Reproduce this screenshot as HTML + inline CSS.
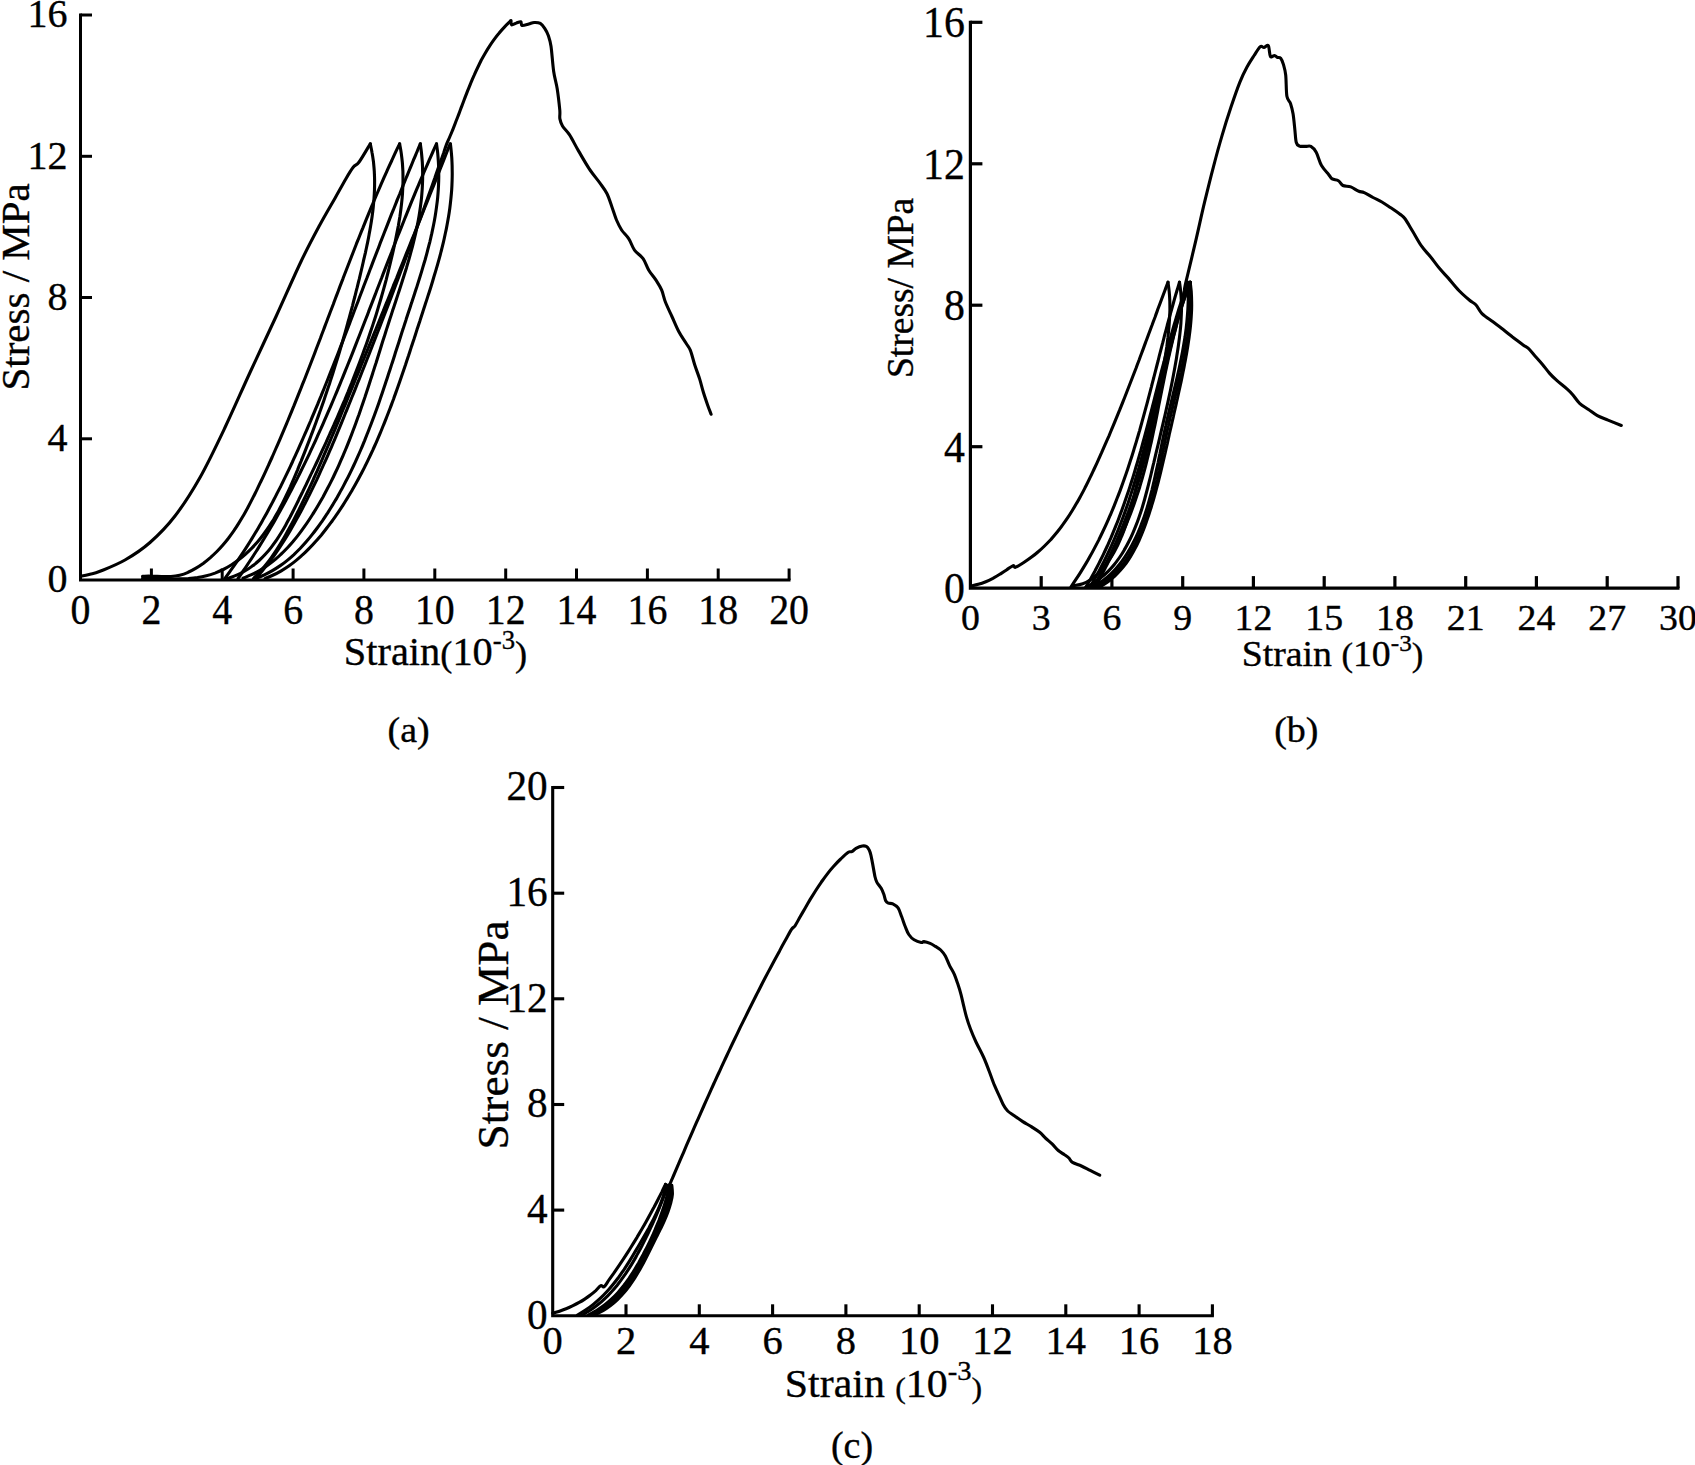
<!DOCTYPE html>
<html lang="en"><head><meta charset="utf-8"><title>Stress-strain curves</title>
<style>html,body{margin:0;padding:0;background:#fff}body{width:1695px;height:1465px;overflow:hidden}svg{display:block}</style>
</head><body>
<svg width="1695" height="1465" viewBox="0 0 1695 1465">
<rect width="1695" height="1465" fill="#fff"/>
<g fill="none" stroke="#000" stroke-width="2.80" stroke-linecap="butt" stroke-linejoin="miter"><g stroke-width="3.00"><path d="M80.5,13.6L80.5,580.0L790.5,580.0"/><path d="M151.4,580.0v-11.5"/><path d="M222.2,580.0v-11.5"/><path d="M293.1,580.0v-11.5"/><path d="M363.9,580.0v-11.5"/><path d="M434.8,580.0v-11.5"/><path d="M505.7,580.0v-11.5"/><path d="M576.5,580.0v-11.5"/><path d="M647.4,580.0v-11.5"/><path d="M718.2,580.0v-11.5"/><path d="M789.1,580.0v-11.5"/><path d="M80.5,438.8h11.5"/><path d="M80.5,297.5h11.5"/><path d="M80.5,156.3h11.5"/><path d="M80.5,15.0h11.5"/></g><g stroke-width="3.20"><path d="M970.4,20.8L970.4,588.1L1679.5,588.1"/><path d="M1041.2,588.1v-12.0"/><path d="M1111.9,588.1v-12.0"/><path d="M1182.7,588.1v-12.0"/><path d="M1253.4,588.1v-12.0"/><path d="M1324.2,588.1v-12.0"/><path d="M1394.9,588.1v-12.0"/><path d="M1465.7,588.1v-12.0"/><path d="M1536.4,588.1v-12.0"/><path d="M1607.2,588.1v-12.0"/><path d="M1678.0,588.1v-12.0"/><path d="M970.4,446.7h12.0"/><path d="M970.4,305.2h12.0"/><path d="M970.4,163.8h12.0"/><path d="M970.4,22.3h12.0"/></g><g stroke-width="3.10"><path d="M552.7,786.0L552.7,1315.8L1213.9,1315.8"/><path d="M626.0,1315.8v-11.5"/><path d="M699.3,1315.8v-11.5"/><path d="M772.6,1315.8v-11.5"/><path d="M845.9,1315.8v-11.5"/><path d="M919.2,1315.8v-11.5"/><path d="M992.5,1315.8v-11.5"/><path d="M1065.8,1315.8v-11.5"/><path d="M1139.1,1315.8v-11.5"/><path d="M1212.4,1315.8v-11.5"/><path d="M552.7,1210.1h11.5"/><path d="M552.7,1104.5h11.5"/><path d="M552.7,998.8h11.5"/><path d="M552.7,893.2h11.5"/><path d="M552.7,787.5h11.5"/></g></g>
<g fill="none" stroke="#000" stroke-linecap="round" stroke-linejoin="round">
<path d="M80.5,576.2C82.1,575.9 86.8,575.0 90.0,574.2C93.2,573.4 94.2,573.7 100.0,571.3C105.8,568.9 116.7,564.8 125.0,560.0C133.3,555.2 141.7,549.8 150.0,542.5C158.3,535.2 166.7,526.8 175.0,516.0C183.3,505.2 191.7,492.2 200.0,477.5C208.3,462.8 216.7,445.0 225.0,427.5C233.3,410.0 241.4,391.2 250.0,372.5C258.6,353.8 267.9,334.2 276.5,315.5C285.1,296.8 294.3,275.5 301.5,260.5C308.7,245.5 313.9,235.9 319.5,225.5C325.1,215.1 330.6,205.9 335.0,198.2C339.4,190.4 342.8,184.2 345.8,179.0C348.8,173.8 351.0,170.1 353.2,167.3C355.4,164.5 356.2,165.9 359.1,162.0C362.0,158.1 368.4,146.8 370.3,143.8" stroke-width="3.10"/>
<path d="M370.3,143.8C370.6,145.3 371.6,149.9 372.1,153.0C372.7,156.0 373.1,159.1 373.5,162.1C373.8,165.2 374.1,168.2 374.3,171.3C374.4,174.3 374.6,177.3 374.6,180.4C374.6,183.4 374.6,186.4 374.5,189.4C374.4,192.5 374.3,195.5 374.0,198.5C373.8,201.5 373.5,204.5 373.2,207.5C372.9,210.5 372.5,213.5 372.1,216.5C371.7,219.5 371.2,222.5 370.7,225.5C370.2,228.5 369.7,231.5 369.1,234.4C368.6,237.4 368.0,240.4 367.4,243.4C366.8,246.3 366.1,249.3 365.5,252.3C364.8,255.2 364.1,258.2 363.4,261.2C362.8,264.1 362.1,267.1 361.4,270.0C360.7,273.0 360.0,275.9 359.3,278.9C358.5,281.8 357.8,284.8 357.1,287.7C356.3,290.6 355.6,293.6 354.9,296.5C354.1,299.4 353.3,302.4 352.6,305.3C351.8,308.2 351.0,311.1 350.2,314.1C349.5,317.0 348.7,319.9 347.8,322.8C347.0,325.7 346.2,328.6 345.4,331.6C344.6,334.5 343.7,337.4 342.9,340.3C342.1,343.2 341.2,346.1 340.3,349.0C339.5,351.9 338.6,354.8 337.7,357.7C336.8,360.6 335.9,363.5 335.0,366.3C334.1,369.2 333.2,372.1 332.3,375.0C331.4,377.9 330.4,380.8 329.5,383.7C328.5,386.5 327.6,389.4 326.6,392.3C325.6,395.2 324.7,398.0 323.7,400.9C322.7,403.8 321.7,406.7 320.7,409.5C319.6,412.4 318.6,415.3 317.6,418.1C316.5,421.0 315.5,423.9 314.4,426.7C313.4,429.6 312.3,432.4 311.2,435.3C310.1,438.2 309.0,441.0 307.9,443.9C306.8,446.7 305.7,449.6 304.6,452.4C303.5,455.3 302.3,458.1 301.2,461.0C300.0,463.9 298.8,466.7 297.7,469.6C296.5,472.4 295.3,475.2 294.1,478.1C292.9,480.9 291.6,483.8 290.4,486.6C289.1,489.4 287.8,492.2 286.5,495.0C285.2,497.8 283.9,500.5 282.5,503.3C281.1,506.0 279.7,508.7 278.2,511.4C276.7,514.0 275.2,516.7 273.7,519.3C272.1,521.8 270.5,524.4 268.8,526.9C267.2,529.4 265.4,531.8 263.6,534.2C261.8,536.6 260.0,539.0 258.1,541.2C256.1,543.5 254.1,545.7 252.1,547.9C250.0,550.0 247.8,552.1 245.6,554.1C243.4,556.1 241.1,558.0 238.7,559.8C236.3,561.6 233.8,563.4 231.2,565.0C228.6,566.6 226.0,568.1 223.3,569.5C220.6,570.8 217.8,572.0 215.0,573.1C212.2,574.1 209.3,575.0 206.4,575.7C203.5,576.4 200.5,577.0 197.5,577.5C194.5,577.9 191.5,578.2 188.4,578.5C185.4,578.7 182.3,578.8 179.2,578.9C176.2,579.0 173.1,579.0 170.0,578.9C166.9,578.9 163.8,578.8 160.7,578.7C157.7,578.6 154.6,578.5 151.6,578.4C148.5,578.3 144.0,578.2 142.5,578.2" stroke-width="3.10"/>
<path d="M142.5,576.2C144.1,576.2 149.0,576.1 152.3,576.2C155.5,576.2 158.6,576.5 161.7,576.5C164.8,576.6 167.9,576.7 170.9,576.5C173.9,576.3 176.8,575.9 179.7,575.2C182.6,574.5 185.4,573.5 188.1,572.3C190.8,571.2 193.5,569.7 196.0,568.2C198.6,566.6 201.1,564.9 203.5,563.2C205.9,561.4 208.2,559.5 210.4,557.6C212.6,555.6 214.8,553.6 216.9,551.5C219.0,549.4 221.0,547.2 222.9,545.0C224.9,542.7 226.7,540.4 228.6,538.0C230.4,535.6 232.1,533.2 233.9,530.7C235.6,528.2 237.2,525.7 238.8,523.1C240.5,520.5 242.0,517.9 243.6,515.2C245.1,512.6 246.6,509.9 248.0,507.2C249.5,504.5 250.9,501.7 252.3,498.9C253.8,496.2 255.1,493.4 256.5,490.6C257.9,487.8 259.2,485.0 260.5,482.2C261.9,479.4 263.2,476.6 264.5,473.8C265.8,471.0 267.1,468.2 268.4,465.4C269.6,462.6 270.9,459.8 272.2,457.0C273.4,454.2 274.7,451.3 275.9,448.5C277.1,445.7 278.4,442.9 279.6,440.1C280.8,437.3 282.0,434.4 283.2,431.6C284.4,428.8 285.6,426.0 286.8,423.2C288.0,420.3 289.1,417.5 290.3,414.7C291.5,411.9 292.6,409.0 293.8,406.2C294.9,403.4 296.1,400.5 297.2,397.7C298.3,394.9 299.5,392.0 300.6,389.2C301.7,386.4 302.8,383.6 304.0,380.7C305.1,377.9 306.2,375.1 307.3,372.2C308.4,369.4 309.5,366.5 310.6,363.7C311.7,360.9 312.8,358.0 313.9,355.2C315.0,352.4 316.0,349.5 317.1,346.7C318.2,343.9 319.3,341.0 320.4,338.2C321.4,335.4 322.5,332.5 323.6,329.7C324.7,326.8 325.7,324.0 326.8,321.2C327.9,318.3 329.0,315.5 330.0,312.7C331.1,309.8 332.2,307.0 333.3,304.2C334.3,301.3 335.4,298.5 336.5,295.6C337.6,292.8 338.6,290.0 339.7,287.1C340.8,284.3 341.9,281.5 343.0,278.6C344.0,275.8 345.1,273.0 346.2,270.2C347.3,267.3 348.4,264.5 349.5,261.7C350.6,258.8 351.7,256.0 352.8,253.2C353.9,250.4 355.0,247.5 356.1,244.7C357.2,241.9 358.4,239.1 359.5,236.2C360.6,233.4 361.7,230.6 362.9,227.8C364.0,225.0 365.2,222.1 366.3,219.3C367.5,216.5 368.6,213.7 369.8,210.9C371.0,208.1 372.1,205.3 373.3,202.5C374.5,199.7 375.7,196.8 376.9,194.0C378.1,191.2 379.3,188.4 380.5,185.6C381.7,182.8 383.0,180.0 384.2,177.2C385.4,174.4 386.7,171.6 387.9,168.9C389.2,166.1 390.5,163.3 391.8,160.5C393.0,157.7 394.3,154.9 395.6,152.1C396.9,149.4 398.9,145.2 399.6,143.8" stroke-width="3.10"/>
<path d="M420.3,143.8C419.7,145.2 418.0,149.3 416.9,152.0C415.7,154.8 414.6,157.5 413.4,160.2C412.3,163.0 411.2,165.8 410.0,168.5C408.9,171.3 407.8,174.0 406.6,176.8C405.5,179.6 404.4,182.4 403.2,185.1C402.1,187.9 401.0,190.7 399.9,193.5C398.7,196.3 397.6,199.1 396.5,201.8C395.4,204.6 394.3,207.4 393.2,210.2C392.0,213.0 390.9,215.8 389.8,218.6C388.7,221.4 387.6,224.2 386.5,227.1C385.4,229.9 384.3,232.7 383.2,235.5C382.1,238.3 381.0,241.1 379.9,243.9C378.9,246.8 377.8,249.6 376.7,252.4C375.6,255.2 374.5,258.0 373.4,260.9C372.3,263.7 371.3,266.5 370.2,269.3C369.1,272.2 368.0,275.0 367.0,277.8C365.9,280.6 364.8,283.5 363.7,286.3C362.7,289.1 361.6,292.0 360.5,294.8C359.4,297.6 358.4,300.4 357.3,303.3C356.2,306.1 355.1,308.9 354.0,311.8C353.0,314.6 351.9,317.4 350.8,320.2C349.7,323.1 348.6,325.9 347.6,328.7C346.5,331.5 345.4,334.4 344.3,337.2C343.2,340.0 342.1,342.8 341.0,345.6C339.9,348.4 338.9,351.3 337.8,354.1C336.7,356.9 335.6,359.7 334.4,362.5C333.3,365.3 332.2,368.1 331.1,370.9C330.0,373.7 328.9,376.5 327.8,379.3C326.7,382.1 325.5,384.9 324.4,387.7C323.3,390.5 322.1,393.3 321.0,396.1C319.8,398.9 318.7,401.6 317.6,404.4C316.4,407.2 315.2,410.0 314.1,412.7C312.9,415.5 311.7,418.3 310.6,421.0C309.4,423.8 308.2,426.5 307.0,429.3C305.8,432.0 304.6,434.8 303.4,437.5C302.2,440.2 301.0,443.0 299.8,445.7C298.6,448.4 297.3,451.2 296.1,453.9C294.9,456.6 293.6,459.3 292.4,462.0C291.1,464.7 289.9,467.4 288.6,470.1C287.3,472.8 286.0,475.5 284.7,478.1C283.4,480.8 282.1,483.5 280.8,486.2C279.4,488.8 278.1,491.5 276.7,494.1C275.4,496.8 274.0,499.4 272.6,502.1C271.2,504.7 269.8,507.3 268.4,509.9C267.0,512.6 265.6,515.2 264.1,517.8C262.6,520.4 261.2,523.0 259.7,525.6C258.2,528.1 256.7,530.7 255.1,533.3C253.6,535.9 252.0,538.4 250.4,541.0C248.8,543.5 247.2,546.1 245.6,548.6C244.0,551.1 242.3,553.7 240.6,556.2C239.0,558.7 237.3,561.2 235.5,563.7C233.8,566.2 232.0,568.6 230.2,571.1C228.5,573.6 225.7,577.3 224.8,578.5" stroke-width="3.10"/>
<path d="M436.5,143.8C435.9,145.2 434.0,149.3 432.8,152.0C431.6,154.7 430.4,157.5 429.2,160.2C428.0,163.0 426.8,165.7 425.6,168.5C424.4,171.2 423.2,174.0 422.0,176.8C420.8,179.5 419.7,182.3 418.5,185.1C417.3,187.8 416.2,190.6 415.0,193.4C413.9,196.2 412.7,199.0 411.6,201.7C410.5,204.5 409.3,207.3 408.2,210.1C407.1,212.9 405.9,215.7 404.8,218.5C403.7,221.3 402.6,224.1 401.5,226.9C400.4,229.7 399.2,232.5 398.1,235.3C397.0,238.1 395.9,240.9 394.8,243.7C393.7,246.5 392.6,249.3 391.6,252.2C390.5,255.0 389.4,257.8 388.3,260.6C387.2,263.4 386.1,266.2 385.0,269.1C383.9,271.9 382.8,274.7 381.8,277.5C380.7,280.3 379.6,283.2 378.5,286.0C377.4,288.8 376.3,291.6 375.3,294.4C374.2,297.3 373.1,300.1 372.0,302.9C370.9,305.7 369.8,308.5 368.7,311.4C367.7,314.2 366.6,317.0 365.5,319.8C364.4,322.6 363.3,325.4 362.2,328.3C361.1,331.1 360.0,333.9 358.9,336.7C357.8,339.5 356.7,342.3 355.6,345.1C354.5,348.0 353.4,350.8 352.3,353.6C351.2,356.4 350.0,359.2 348.9,362.0C347.8,364.8 346.7,367.6 345.5,370.4C344.4,373.2 343.3,376.0 342.1,378.8C341.0,381.6 339.8,384.4 338.7,387.1C337.5,389.9 336.4,392.7 335.2,395.5C334.0,398.3 332.9,401.1 331.7,403.8C330.5,406.6 329.3,409.4 328.1,412.1C326.9,414.9 325.7,417.7 324.5,420.4C323.3,423.2 322.1,425.9 320.9,428.7C319.6,431.4 318.4,434.2 317.2,436.9C315.9,439.7 314.7,442.4 313.4,445.1C312.1,447.8 310.9,450.6 309.6,453.3C308.3,456.0 307.0,458.7 305.7,461.4C304.4,464.1 303.1,466.8 301.7,469.5C300.4,472.2 299.1,474.9 297.7,477.6C296.4,480.3 295.0,483.0 293.6,485.6C292.3,488.3 290.9,491.0 289.5,493.6C288.1,496.3 286.7,498.9 285.3,501.6C283.8,504.2 282.4,506.9 280.9,509.5C279.5,512.1 278.0,514.7 276.5,517.4C275.1,520.0 273.6,522.6 272.1,525.2C270.5,527.8 269.0,530.4 267.5,533.0C265.9,535.5 264.4,538.1 262.8,540.7C261.2,543.2 259.7,545.8 258.1,548.4C256.5,550.9 254.8,553.4 253.2,556.0C251.6,558.5 249.9,561.0 248.2,563.5C246.6,566.1 244.9,568.6 243.2,571.0C241.5,573.5 238.9,577.3 238.0,578.5" stroke-width="3.10"/>
<path d="M450.2,143.8C449.6,145.2 448.0,149.4 446.8,152.2C445.7,155.0 444.6,157.8 443.5,160.7C442.4,163.5 441.3,166.3 440.1,169.1C439.0,171.9 437.9,174.7 436.8,177.5C435.7,180.3 434.6,183.1 433.5,185.9C432.3,188.7 431.2,191.5 430.1,194.3C429.0,197.1 427.9,199.9 426.8,202.6C425.6,205.4 424.5,208.2 423.4,211.0C422.3,213.8 421.2,216.6 420.1,219.4C418.9,222.2 417.8,225.0 416.7,227.8C415.6,230.6 414.5,233.4 413.4,236.2C412.2,238.9 411.1,241.7 410.0,244.5C408.9,247.3 407.8,250.1 406.6,252.9C405.5,255.7 404.4,258.5 403.3,261.3C402.2,264.0 401.0,266.8 399.9,269.6C398.8,272.4 397.7,275.2 396.6,278.0C395.4,280.8 394.3,283.6 393.2,286.3C392.1,289.1 390.9,291.9 389.8,294.7C388.7,297.5 387.6,300.3 386.4,303.1C385.3,305.9 384.2,308.7 383.1,311.4C381.9,314.2 380.8,317.0 379.7,319.8C378.6,322.6 377.4,325.4 376.3,328.2C375.2,331.0 374.0,333.8 372.9,336.6C371.8,339.4 370.6,342.1 369.5,344.9C368.4,347.7 367.2,350.5 366.1,353.3C365.0,356.1 363.8,358.9 362.7,361.7C361.5,364.5 360.4,367.3 359.3,370.1C358.1,372.9 357.0,375.7 355.8,378.5C354.7,381.3 353.5,384.1 352.4,386.9C351.2,389.7 350.1,392.5 348.9,395.3C347.8,398.1 346.6,401.0 345.5,403.8C344.3,406.6 343.2,409.4 342.0,412.2C340.9,415.0 339.7,417.8 338.6,420.6C337.4,423.4 336.2,426.2 335.1,429.1C333.9,431.9 332.7,434.7 331.5,437.5C330.4,440.3 329.2,443.1 328.0,445.9C326.8,448.7 325.6,451.5 324.4,454.2C323.2,457.0 322.0,459.8 320.8,462.6C319.6,465.3 318.4,468.1 317.2,470.9C315.9,473.6 314.7,476.4 313.5,479.1C312.2,481.9 311.0,484.6 309.7,487.3C308.4,490.0 307.2,492.7 305.9,495.4C304.6,498.1 303.3,500.8 302.0,503.5C300.7,506.2 299.4,508.8 298.0,511.5C296.7,514.1 295.4,516.7 294.0,519.4C292.7,522.0 291.3,524.6 289.9,527.1C288.5,529.7 287.1,532.3 285.7,534.8C284.3,537.4 282.8,539.9 281.3,542.4C279.8,544.9 278.2,547.4 276.6,549.9C275.0,552.4 273.3,554.8 271.5,557.3C269.8,559.7 268.0,562.1 266.1,564.5C264.2,566.9 262.2,569.2 260.1,571.6C258.0,573.9 254.6,577.3 253.5,578.5" stroke-width="3.10"/>
<path d="M399.6,143.8C399.9,145.3 400.8,149.9 401.2,152.9C401.6,155.9 402.0,159.0 402.3,162.0C402.6,165.1 402.7,168.1 402.9,171.1C403.0,174.2 403.0,177.2 403.0,180.2C403.0,183.3 402.9,186.3 402.7,189.3C402.6,192.3 402.4,195.4 402.1,198.4C401.8,201.4 401.5,204.5 401.1,207.5C400.8,210.5 400.3,213.5 399.9,216.5C399.4,219.5 398.9,222.6 398.4,225.6C397.8,228.6 397.2,231.6 396.6,234.6C396.1,237.6 395.4,240.6 394.8,243.6C394.1,246.6 393.5,249.6 392.8,252.6C392.1,255.5 391.4,258.5 390.7,261.5C390.0,264.5 389.3,267.5 388.5,270.4C387.8,273.4 387.0,276.3 386.3,279.3C385.5,282.3 384.7,285.2 383.9,288.2C383.1,291.1 382.3,294.0 381.4,297.0C380.6,299.9 379.7,302.8 378.8,305.7C378.0,308.6 377.1,311.6 376.2,314.5C375.3,317.4 374.3,320.3 373.4,323.1C372.5,326.0 371.5,328.9 370.5,331.8C369.6,334.7 368.6,337.6 367.6,340.4C366.6,343.3 365.6,346.2 364.5,349.0C363.5,351.9 362.5,354.7 361.4,357.6C360.4,360.4 359.3,363.3 358.2,366.1C357.1,368.9 356.0,371.8 354.9,374.6C353.8,377.4 352.7,380.3 351.6,383.1C350.4,385.9 349.3,388.7 348.2,391.5C347.0,394.3 345.8,397.2 344.7,400.0C343.5,402.8 342.3,405.6 341.1,408.4C339.9,411.2 338.7,414.0 337.5,416.8C336.3,419.6 335.0,422.4 333.8,425.2C332.5,428.0 331.3,430.7 330.0,433.5C328.8,436.3 327.5,439.1 326.3,441.9C325.0,444.7 323.7,447.5 322.4,450.2C321.1,453.0 319.8,455.8 318.5,458.6C317.2,461.4 315.9,464.1 314.6,466.9C313.3,469.7 311.9,472.5 310.6,475.2C309.3,478.0 307.9,480.8 306.6,483.6C305.3,486.3 303.9,489.1 302.6,491.9C301.2,494.7 299.8,497.4 298.5,500.2C297.1,503.0 295.8,505.8 294.4,508.5C293.0,511.3 291.6,514.1 290.2,516.8C288.7,519.5 287.3,522.2 285.8,524.9C284.3,527.6 282.8,530.2 281.2,532.8C279.6,535.4 278.0,537.9 276.3,540.4C274.6,542.8 272.8,545.2 271.0,547.6C269.2,549.9 267.3,552.2 265.3,554.3C263.3,556.5 261.2,558.6 259.1,560.5C256.9,562.5 254.6,564.4 252.2,566.1C249.9,567.9 247.4,569.5 244.8,571.0C242.2,572.6 239.4,574.0 236.6,575.2C233.7,576.4 229.1,577.9 227.6,578.5" stroke-width="3.10"/>
<path d="M420.3,143.8C420.5,145.3 421.2,150.0 421.5,153.0C421.8,156.1 422.1,159.1 422.3,162.2C422.5,165.2 422.6,168.3 422.6,171.3C422.7,174.3 422.7,177.3 422.6,180.3C422.5,183.3 422.4,186.2 422.2,189.2C422.0,192.2 421.8,195.1 421.5,198.1C421.2,201.0 420.8,204.0 420.4,206.9C420.0,209.9 419.6,212.8 419.1,215.7C418.6,218.6 418.1,221.5 417.5,224.4C416.9,227.3 416.3,230.2 415.7,233.1C415.0,236.0 414.3,238.9 413.6,241.8C412.9,244.7 412.2,247.6 411.4,250.4C410.6,253.3 409.8,256.2 409.0,259.1C408.2,261.9 407.3,264.8 406.5,267.7C405.6,270.5 404.7,273.4 403.8,276.3C402.9,279.1 402.0,282.0 401.1,284.8C400.2,287.7 399.2,290.6 398.3,293.4C397.4,296.3 396.4,299.2 395.5,302.0C394.5,304.9 393.6,307.8 392.6,310.6C391.7,313.5 390.8,316.4 389.8,319.3C388.9,322.2 388.0,325.0 387.0,327.9C386.1,330.8 385.2,333.7 384.3,336.6C383.3,339.5 382.4,342.4 381.5,345.3C380.6,348.2 379.7,351.1 378.8,354.0C377.9,356.9 377.0,359.8 376.1,362.7C375.1,365.6 374.2,368.5 373.3,371.4C372.4,374.2 371.5,377.1 370.5,380.0C369.6,382.9 368.7,385.8 367.7,388.7C366.8,391.6 365.8,394.4 364.9,397.3C363.9,400.2 362.9,403.1 361.9,405.9C361.0,408.8 360.0,411.6 359.0,414.5C357.9,417.3 356.9,420.2 355.9,423.0C354.9,425.8 353.8,428.7 352.7,431.5C351.7,434.3 350.6,437.1 349.5,439.9C348.4,442.7 347.3,445.5 346.1,448.3C345.0,451.1 343.8,453.8 342.6,456.6C341.4,459.3 340.2,462.1 339.0,464.8C337.8,467.6 336.5,470.3 335.2,473.0C334.0,475.7 332.7,478.4 331.3,481.1C330.0,483.7 328.6,486.4 327.2,489.0C325.8,491.7 324.4,494.3 323.0,496.9C321.5,499.5 320.0,502.1 318.5,504.7C317.0,507.3 315.5,509.8 313.9,512.4C312.3,514.9 310.7,517.5 309.0,520.0C307.4,522.5 305.7,524.9 303.9,527.4C302.2,529.8 300.4,532.3 298.6,534.6C296.8,537.0 294.9,539.3 293.0,541.6C291.0,543.9 289.1,546.1 287.0,548.3C285.0,550.4 282.9,552.5 280.7,554.5C278.6,556.6 276.3,558.5 274.1,560.4C271.8,562.3 269.4,564.0 267.0,565.7C264.5,567.4 262.0,569.0 259.5,570.5C256.9,572.0 254.2,573.4 251.5,574.7C248.7,576.0 244.4,577.6 243.0,578.2" stroke-width="3.10"/>
<path d="M436.5,143.8C436.7,145.3 437.4,150.0 437.7,153.1C438.0,156.1 438.2,159.2 438.4,162.2C438.6,165.3 438.7,168.3 438.7,171.3C438.8,174.4 438.8,177.4 438.7,180.4C438.6,183.4 438.5,186.4 438.3,189.3C438.1,192.3 437.9,195.3 437.6,198.3C437.3,201.2 436.9,204.2 436.5,207.1C436.1,210.1 435.7,213.0 435.2,215.9C434.7,218.9 434.2,221.8 433.6,224.7C433.0,227.6 432.4,230.5 431.8,233.4C431.1,236.3 430.5,239.2 429.8,242.1C429.0,245.0 428.3,247.9 427.5,250.8C426.8,253.7 426.0,256.6 425.2,259.5C424.3,262.4 423.5,265.2 422.6,268.1C421.8,271.0 420.9,273.9 420.0,276.7C419.1,279.6 418.2,282.5 417.3,285.4C416.4,288.2 415.4,291.1 414.5,294.0C413.6,296.9 412.6,299.7 411.7,302.6C410.7,305.5 409.8,308.4 408.8,311.3C407.9,314.2 406.9,317.0 406.0,319.9C405.0,322.8 404.1,325.7 403.2,328.6C402.2,331.5 401.3,334.4 400.4,337.3C399.5,340.2 398.5,343.1 397.6,346.0C396.7,348.9 395.7,351.8 394.8,354.7C393.9,357.6 393.0,360.5 392.0,363.4C391.1,366.3 390.1,369.2 389.2,372.1C388.2,375.0 387.3,377.9 386.3,380.8C385.4,383.7 384.4,386.6 383.4,389.5C382.5,392.3 381.5,395.2 380.5,398.1C379.5,401.0 378.5,403.8 377.5,406.7C376.5,409.5 375.4,412.4 374.4,415.2C373.3,418.1 372.3,420.9 371.2,423.8C370.1,426.6 369.0,429.4 367.9,432.2C366.8,435.0 365.7,437.8 364.6,440.6C363.4,443.4 362.3,446.2 361.1,449.0C359.9,451.8 358.7,454.5 357.4,457.3C356.2,460.0 355.0,462.7 353.7,465.5C352.4,468.2 351.1,470.9 349.8,473.6C348.5,476.3 347.1,479.0 345.7,481.6C344.3,484.3 342.9,486.9 341.5,489.6C340.0,492.2 338.6,494.8 337.1,497.4C335.6,500.0 334.0,502.6 332.5,505.2C330.9,507.7 329.3,510.3 327.7,512.8C326.0,515.3 324.4,517.8 322.7,520.3C320.9,522.8 319.2,525.3 317.4,527.7C315.6,530.1 313.8,532.5 311.9,534.9C310.1,537.2 308.1,539.6 306.2,541.8C304.2,544.1 302.2,546.3 300.1,548.5C298.0,550.6 295.9,552.7 293.7,554.8C291.5,556.8 289.3,558.7 287.0,560.6C284.7,562.5 282.3,564.3 279.9,565.9C277.4,567.6 274.9,569.2 272.4,570.7C269.8,572.2 267.1,573.6 264.4,574.9C261.7,576.2 257.4,577.8 256.0,578.4" stroke-width="3.10"/>
<path d="M450.4,143.8C450.6,145.4 451.1,150.0 451.4,153.1C451.7,156.2 451.9,159.3 452.0,162.3C452.2,165.4 452.2,168.4 452.2,171.5C452.3,174.5 452.2,177.5 452.1,180.6C452.0,183.6 451.9,186.6 451.7,189.6C451.5,192.6 451.2,195.6 450.9,198.6C450.6,201.5 450.3,204.5 449.9,207.5C449.5,210.4 449.1,213.4 448.6,216.3C448.1,219.3 447.6,222.2 447.0,225.2C446.5,228.1 445.9,231.0 445.2,234.0C444.6,236.9 444.0,239.8 443.3,242.7C442.6,245.6 441.9,248.5 441.1,251.5C440.4,254.4 439.6,257.3 438.8,260.2C438.0,263.1 437.2,266.0 436.3,268.9C435.5,271.8 434.6,274.6 433.7,277.5C432.9,280.4 432.0,283.3 431.1,286.2C430.2,289.1 429.3,292.0 428.3,294.9C427.4,297.8 426.5,300.7 425.5,303.6C424.6,306.4 423.6,309.3 422.7,312.2C421.8,315.1 420.8,318.0 419.9,320.9C418.9,323.8 418.0,326.7 417.0,329.6C416.1,332.6 415.1,335.5 414.2,338.4C413.2,341.3 412.3,344.2 411.3,347.1C410.4,350.0 409.4,352.9 408.5,355.8C407.5,358.7 406.5,361.6 405.6,364.5C404.6,367.4 403.6,370.3 402.6,373.2C401.6,376.1 400.6,379.0 399.6,381.9C398.6,384.8 397.6,387.7 396.6,390.6C395.6,393.4 394.5,396.3 393.5,399.2C392.4,402.0 391.4,404.9 390.3,407.8C389.2,410.6 388.1,413.5 387.0,416.3C385.9,419.1 384.8,422.0 383.6,424.8C382.5,427.6 381.3,430.4 380.2,433.2C379.0,436.0 377.8,438.8 376.6,441.6C375.4,444.4 374.1,447.1 372.9,449.9C371.6,452.6 370.3,455.4 369.0,458.1C367.7,460.8 366.4,463.6 365.0,466.3C363.7,469.0 362.3,471.6 360.9,474.3C359.5,477.0 358.1,479.6 356.6,482.3C355.2,484.9 353.7,487.5 352.2,490.1C350.6,492.7 349.1,495.3 347.5,497.9C345.9,500.5 344.3,503.0 342.7,505.6C341.1,508.1 339.4,510.6 337.7,513.1C336.0,515.6 334.2,518.0 332.5,520.5C330.7,522.9 328.9,525.4 327.0,527.8C325.2,530.2 323.3,532.6 321.4,534.9C319.4,537.2 317.5,539.5 315.4,541.8C313.4,544.1 311.4,546.3 309.2,548.4C307.1,550.6 305.0,552.7 302.8,554.7C300.5,556.7 298.3,558.7 295.9,560.6C293.6,562.5 291.2,564.3 288.8,566.0C286.3,567.7 283.8,569.3 281.3,570.8C278.7,572.3 276.1,573.7 273.3,575.0C270.6,576.3 266.4,578.0 265.0,578.6" stroke-width="3.10"/>
<path d="M255.7,578.5C256.7,577.3 259.8,573.9 261.8,571.5C263.7,569.2 265.6,566.8 267.5,564.4C269.4,562.0 271.2,559.6 272.9,557.2C274.7,554.8 276.4,552.3 278.0,549.9C279.7,547.4 281.3,544.9 282.9,542.4C284.5,540.0 286.1,537.4 287.6,534.9C289.1,532.4 290.6,529.8 292.1,527.3C293.6,524.7 295.0,522.2 296.4,519.6C297.9,517.0 299.3,514.4 300.7,511.8C302.1,509.2 303.5,506.5 304.8,503.9C306.2,501.3 307.5,498.6 308.9,495.9C310.2,493.3 311.5,490.6 312.8,487.9C314.1,485.3 315.4,482.6 316.7,479.9C317.9,477.2 319.2,474.4 320.4,471.7C321.7,469.0 322.9,466.3 324.1,463.5C325.4,460.8 326.6,458.1 327.8,455.3C329.0,452.6 330.2,449.8 331.4,447.1C332.5,444.3 333.7,441.5 334.9,438.8C336.1,436.0 337.2,433.2 338.4,430.4C339.5,427.7 340.7,424.9 341.8,422.1C343.0,419.3 344.1,416.5 345.2,413.7C346.4,411.0 347.5,408.2 348.6,405.4C349.8,402.6 350.9,399.8 352.0,397.0C353.2,394.2 354.3,391.4 355.4,388.6C356.5,385.8 357.6,383.0 358.8,380.2C359.9,377.4 361.0,374.6 362.1,371.8C363.2,369.0 364.3,366.2 365.4,363.5C366.5,360.7 367.6,357.9 368.7,355.1C369.8,352.3 370.9,349.5 372.0,346.6C373.1,343.8 374.2,341.0 375.3,338.2C376.4,335.4 377.5,332.6 378.6,329.8C379.7,327.0 380.7,324.2 381.8,321.4C382.9,318.6 384.0,315.8 385.1,313.0C386.1,310.2 387.2,307.4 388.3,304.6C389.4,301.8 390.4,299.0 391.5,296.1C392.6,293.3 393.6,290.5 394.7,287.7C395.8,284.9 396.8,282.1 397.9,279.3C398.9,276.5 400.0,273.7 401.0,270.8C402.1,268.0 403.1,265.2 404.2,262.4C405.2,259.6 406.3,256.8 407.3,254.0C408.4,251.1 409.4,248.3 410.4,245.5C411.5,242.7 412.5,239.9 413.5,237.1C414.6,234.2 415.6,231.4 416.6,228.6C417.7,225.8 418.7,223.0 419.7,220.1C420.7,217.3 421.7,214.5 422.8,211.7C423.8,208.9 424.8,206.0 425.8,203.2C426.8,200.4 427.8,197.6 428.8,194.7C429.8,191.9 430.9,189.1 431.9,186.3C432.9,183.5 433.9,180.6 434.9,177.8C435.8,175.0 436.8,172.2 437.8,169.3C438.8,166.5 439.8,163.7 440.8,160.9C441.8,158.0 442.8,155.2 443.8,152.4C444.7,149.6 445.7,146.5 446.7,143.9C447.7,141.3 448.9,139.0 449.9,136.5C451.0,134.0 452.0,131.5 453.1,128.9C454.1,126.4 455.1,123.9 456.0,121.3C457.0,118.7 458.0,116.2 459.0,113.6C460.0,111.0 460.9,108.4 461.9,105.9C462.9,103.3 463.8,100.7 464.8,98.1C465.8,95.5 466.8,92.9 467.8,90.4C468.8,87.8 469.9,85.3 470.9,82.7C472.0,80.2 473.0,77.6 474.2,75.1C475.3,72.6 476.4,70.1 477.6,67.7C478.8,65.2 480.0,62.8 481.2,60.3C482.5,57.9 483.8,55.6 485.2,53.2C486.5,50.9 487.9,48.6 489.4,46.3C490.9,44.0 492.4,41.8 494.0,39.6C495.6,37.4 497.2,35.3 499.0,33.2C500.7,31.1 502.5,29.1 504.4,27.1C506.3,25.1 509.3,22.3 510.3,21.3" stroke-width="3.10"/>
<path d="M510.3,21.3C510.4,21.2 510.8,20.0 511.0,20.6C511.2,21.2 510.7,24.5 511.6,24.9C512.5,25.3 514.8,23.6 516.3,23.1C517.8,22.6 519.8,21.4 520.8,21.8C521.8,22.2 520.7,25.0 522.0,25.4C523.3,25.8 526.8,24.5 528.8,24.0C530.8,23.5 532.2,22.6 534.1,22.5C536.0,22.4 538.5,22.4 540.3,23.4C542.1,24.4 543.4,26.4 544.7,28.4C546.0,30.4 547.2,32.5 548.3,35.5C549.3,38.5 550.1,40.3 551.0,46.2C551.9,52.1 552.6,63.9 553.6,71.0C554.6,78.1 556.2,82.3 557.2,88.8C558.2,95.3 559.3,105.1 559.8,110.1C560.2,115.1 559.4,116.2 559.9,118.9C560.4,121.6 560.9,123.3 562.5,126.0C564.1,128.7 566.9,130.8 569.6,134.9C572.3,139.1 575.2,145.3 578.5,150.9C581.8,156.5 585.6,163.3 589.1,168.6C592.6,173.9 596.8,178.8 599.8,182.9C602.8,187.1 604.8,189.4 606.9,193.5C609.0,197.6 610.6,203.3 612.2,207.7C613.8,212.1 614.9,216.3 616.5,220.0C618.1,223.7 619.6,226.9 621.6,230.0C623.6,233.1 626.6,235.2 628.7,238.6C630.9,241.9 632.1,246.8 634.5,250.1C636.9,253.4 640.7,255.3 643.1,258.7C645.5,262.1 646.6,266.6 648.8,270.2C650.9,273.8 653.9,276.9 656.0,280.2C658.1,283.5 660.2,286.6 661.7,290.2C663.2,293.8 663.6,297.4 665.3,301.7C667.0,306.0 669.4,311.0 671.7,316.0C674.0,321.0 676.5,327.2 678.9,331.8C681.3,336.4 684.2,340.2 686.1,343.3C688.0,346.4 689.0,346.8 690.4,350.4C691.8,354.0 693.2,360.0 694.7,364.8C696.2,369.6 698.3,374.6 699.7,379.1C701.1,383.6 702.0,387.7 703.3,392.0C704.6,396.3 706.3,401.2 707.6,404.9C708.9,408.6 710.5,412.6 711.1,414.2" stroke-width="3.10"/>
<path d="M970.5,586.0C971.8,585.7 975.8,585.1 978.3,584.3C980.9,583.6 983.4,582.7 985.8,581.7C988.2,580.7 990.6,579.5 992.9,578.3C995.2,577.0 997.5,575.7 999.8,574.3C1002.0,572.9 1004.3,571.5 1006.5,570.0C1008.7,568.6 1011.6,566.1 1013.1,565.6C1014.6,565.1 1013.8,567.8 1015.5,567.3C1017.2,566.8 1020.9,564.3 1023.4,562.7C1026.0,561.1 1028.5,559.4 1030.9,557.6C1033.3,555.8 1035.7,554.0 1037.9,552.0C1040.2,550.1 1042.4,548.1 1044.5,546.0C1046.7,543.9 1048.7,541.8 1050.8,539.6C1052.8,537.4 1054.7,535.1 1056.6,532.8C1058.5,530.4 1060.4,528.1 1062.1,525.6C1063.9,523.2 1065.7,520.7 1067.4,518.2C1069.1,515.7 1070.7,513.1 1072.3,510.5C1073.9,507.9 1075.5,505.3 1077.0,502.6C1078.6,499.9 1080.0,497.2 1081.5,494.5C1083.0,491.8 1084.4,489.0 1085.8,486.3C1087.2,483.5 1088.6,480.7 1089.9,477.9C1091.3,475.2 1092.6,472.3 1093.9,469.5C1095.2,466.7 1096.5,463.9 1097.8,461.1C1099.1,458.3 1100.3,455.5 1101.6,452.7C1102.8,449.9 1104.1,447.0 1105.3,444.2C1106.5,441.4 1107.7,438.6 1109.0,435.8C1110.2,433.0 1111.3,430.2 1112.5,427.3C1113.7,424.5 1114.9,421.7 1116.0,418.9C1117.2,416.1 1118.3,413.2 1119.5,410.4C1120.6,407.6 1121.8,404.8 1122.9,401.9C1124.0,399.1 1125.1,396.3 1126.2,393.5C1127.3,390.6 1128.4,387.8 1129.5,385.0C1130.6,382.1 1131.7,379.3 1132.8,376.5C1133.9,373.6 1135.0,370.8 1136.1,368.0C1137.1,365.1 1138.2,362.3 1139.3,359.5C1140.3,356.6 1141.4,353.8 1142.5,350.9C1143.5,348.1 1144.6,345.2 1145.6,342.4C1146.7,339.5 1147.8,336.7 1148.8,333.8C1149.9,331.0 1150.9,328.1 1152.0,325.3C1153.0,322.4 1154.1,319.5 1155.2,316.7C1156.2,313.8 1157.3,310.9 1158.3,308.1C1159.4,305.2 1160.5,302.3 1161.5,299.5C1162.6,296.6 1163.7,293.7 1164.8,290.8C1165.8,288.0 1167.5,283.6 1168.0,282.2" stroke-width="3.10"/>
<path d="M1168.0,282.2C1168.2,283.8 1168.9,288.5 1169.2,291.6C1169.5,294.7 1169.7,297.9 1169.8,301.0C1169.9,304.1 1169.9,307.1 1169.9,310.2C1169.8,313.3 1169.7,316.4 1169.5,319.4C1169.3,322.5 1169.1,325.5 1168.8,328.6C1168.5,331.6 1168.2,334.6 1167.9,337.7C1167.5,340.7 1167.2,343.7 1166.8,346.7C1166.3,349.7 1165.9,352.7 1165.4,355.7C1165.0,358.7 1164.5,361.7 1164.0,364.7C1163.5,367.7 1162.9,370.7 1162.4,373.7C1161.8,376.7 1161.2,379.7 1160.6,382.6C1160.0,385.6 1159.4,388.6 1158.8,391.6C1158.1,394.6 1157.5,397.6 1156.8,400.5C1156.1,403.5 1155.5,406.5 1154.8,409.5C1154.1,412.5 1153.4,415.5 1152.7,418.5C1151.9,421.5 1151.2,424.5 1150.5,427.5C1149.8,430.5 1149.1,433.5 1148.3,436.5C1147.6,439.5 1146.9,442.6 1146.1,445.6C1145.4,448.6 1144.6,451.7 1143.9,454.7C1143.2,457.8 1142.5,460.8 1141.7,463.9C1141.0,467.0 1140.3,470.1 1139.6,473.1C1138.9,476.2 1138.1,479.3 1137.4,482.4C1136.7,485.5 1136.0,488.6 1135.2,491.7C1134.5,494.8 1133.7,497.9 1132.9,500.9C1132.1,504.0 1131.3,507.0 1130.5,510.0C1129.6,513.1 1128.8,516.0 1127.8,519.0C1126.9,522.0 1125.9,524.9 1124.9,527.8C1123.8,530.7 1122.8,533.5 1121.6,536.3C1120.5,539.1 1119.3,541.9 1118.0,544.6C1116.7,547.3 1115.3,549.9 1113.9,552.5C1112.4,555.1 1110.9,557.6 1109.3,560.0C1107.6,562.5 1105.9,564.8 1104.0,567.1C1102.1,569.4 1100.1,571.7 1097.9,573.7C1095.8,575.8 1093.4,577.9 1090.9,579.5C1088.4,581.2 1085.7,582.8 1082.8,583.8C1079.8,584.9 1074.9,585.5 1073.3,585.8" stroke-width="3.10"/>
<path d="M1071.0,586.8C1071.9,585.5 1074.4,581.8 1076.1,579.2C1077.8,576.7 1079.4,574.2 1081.0,571.6C1082.6,569.0 1084.2,566.4 1085.7,563.9C1087.3,561.3 1088.8,558.6 1090.2,556.0C1091.7,553.4 1093.1,550.8 1094.5,548.1C1095.9,545.5 1097.3,542.8 1098.7,540.1C1100.0,537.4 1101.3,534.7 1102.6,532.0C1103.9,529.3 1105.2,526.6 1106.4,523.9C1107.6,521.2 1108.8,518.4 1110.0,515.7C1111.2,512.9 1112.4,510.2 1113.5,507.4C1114.6,504.6 1115.8,501.8 1116.8,499.0C1117.9,496.3 1119.0,493.5 1120.1,490.6C1121.1,487.8 1122.1,485.0 1123.1,482.2C1124.2,479.4 1125.1,476.5 1126.1,473.7C1127.1,470.8 1128.0,468.0 1129.0,465.1C1129.9,462.3 1130.8,459.4 1131.8,456.5C1132.7,453.7 1133.6,450.8 1134.4,447.9C1135.3,445.0 1136.2,442.2 1137.0,439.3C1137.9,436.4 1138.7,433.5 1139.6,430.6C1140.4,427.7 1141.2,424.8 1142.0,421.9C1142.8,418.9 1143.6,416.0 1144.4,413.1C1145.2,410.2 1146.0,407.3 1146.8,404.4C1147.6,401.4 1148.3,398.5 1149.1,395.6C1149.9,392.7 1150.6,389.8 1151.4,386.8C1152.1,383.9 1152.9,381.0 1153.7,378.0C1154.4,375.1 1155.2,372.2 1155.9,369.3C1156.7,366.3 1157.4,363.4 1158.2,360.5C1158.9,357.5 1159.6,354.6 1160.4,351.7C1161.2,348.8 1161.9,345.9 1162.7,342.9C1163.4,340.0 1164.2,337.1 1164.9,334.2C1165.7,331.3 1166.5,328.4 1167.2,325.5C1168.0,322.5 1168.8,319.6 1169.6,316.7C1170.4,313.8 1171.2,310.9 1172.0,308.1C1172.8,305.2 1173.6,302.3 1174.4,299.4C1175.2,296.5 1176.1,293.6 1176.9,290.8C1177.8,287.9 1179.1,283.6 1179.5,282.2" stroke-width="3.10"/>
<path d="M1179.5,282.2C1179.7,283.8 1180.4,288.4 1180.7,291.5C1181.0,294.6 1181.2,297.7 1181.3,300.8C1181.5,303.8 1181.5,306.9 1181.5,310.0C1181.4,313.0 1181.3,316.1 1181.1,319.1C1181.0,322.1 1180.8,325.2 1180.5,328.2C1180.2,331.2 1179.9,334.2 1179.5,337.3C1179.1,340.3 1178.7,343.3 1178.3,346.3C1177.9,349.3 1177.4,352.3 1176.9,355.2C1176.5,358.2 1176.0,361.2 1175.4,364.2C1174.9,367.2 1174.4,370.2 1173.8,373.1C1173.3,376.1 1172.7,379.1 1172.1,382.1C1171.5,385.0 1170.9,388.0 1170.3,391.0C1169.7,393.9 1169.0,396.9 1168.4,399.9C1167.8,402.9 1167.1,405.8 1166.4,408.8C1165.8,411.8 1165.1,414.7 1164.4,417.7C1163.7,420.7 1163.0,423.7 1162.3,426.7C1161.6,429.7 1160.9,432.6 1160.2,435.6C1159.5,438.6 1158.8,441.6 1158.1,444.6C1157.4,447.6 1156.6,450.6 1155.9,453.6C1155.2,456.7 1154.5,459.7 1153.8,462.7C1153.0,465.7 1152.3,468.8 1151.6,471.8C1150.9,474.8 1150.2,477.9 1149.4,480.9C1148.7,483.9 1147.9,487.0 1147.1,490.0C1146.3,493.0 1145.5,496.0 1144.7,499.0C1143.9,502.0 1143.0,505.0 1142.1,508.0C1141.2,510.9 1140.2,513.8 1139.2,516.7C1138.2,519.7 1137.2,522.5 1136.0,525.4C1134.9,528.2 1133.8,531.0 1132.5,533.8C1131.3,536.6 1130.0,539.3 1128.6,542.0C1127.3,544.7 1125.8,547.3 1124.3,549.9C1122.8,552.5 1121.2,555.0 1119.5,557.5C1117.8,559.9 1116.0,562.4 1114.1,564.7C1112.2,567.0 1110.2,569.2 1108.1,571.4C1106.0,573.5 1103.8,575.5 1101.4,577.4C1099.1,579.3 1096.7,581.1 1094.1,582.7C1091.5,584.3 1087.3,586.3 1086.0,587.0" stroke-width="3.10"/>
<path d="M1086.0,586.8C1086.8,585.5 1089.1,581.5 1090.7,578.8C1092.2,576.1 1093.6,573.4 1095.1,570.7C1096.5,568.0 1098.0,565.3 1099.3,562.6C1100.7,559.8 1102.1,557.1 1103.4,554.3C1104.7,551.6 1106.0,548.8 1107.3,546.0C1108.5,543.3 1109.7,540.5 1111.0,537.7C1112.2,534.9 1113.3,532.0 1114.5,529.2C1115.6,526.4 1116.8,523.6 1117.9,520.7C1119.0,517.9 1120.1,515.0 1121.1,512.1C1122.2,509.3 1123.2,506.4 1124.2,503.5C1125.2,500.6 1126.2,497.7 1127.2,494.8C1128.2,492.0 1129.2,489.0 1130.1,486.1C1131.0,483.2 1132.0,480.3 1132.9,477.4C1133.8,474.5 1134.7,471.5 1135.5,468.6C1136.4,465.6 1137.3,462.7 1138.1,459.8C1139.0,456.8 1139.8,453.8 1140.7,450.9C1141.5,447.9 1142.3,445.0 1143.1,442.0C1143.9,439.0 1144.7,436.1 1145.5,433.1C1146.3,430.1 1147.1,427.1 1147.9,424.2C1148.7,421.2 1149.5,418.2 1150.2,415.2C1151.0,412.3 1151.8,409.3 1152.5,406.3C1153.3,403.3 1154.1,400.3 1154.8,397.3C1155.6,394.3 1156.4,391.4 1157.1,388.4C1157.9,385.4 1158.6,382.4 1159.4,379.4C1160.2,376.4 1160.9,373.4 1161.7,370.5C1162.5,367.5 1163.3,364.5 1164.1,361.5C1164.8,358.6 1165.6,355.6 1166.4,352.6C1167.2,349.6 1168.0,346.7 1168.8,343.7C1169.7,340.7 1170.5,337.8 1171.3,334.8C1172.1,331.9 1173.0,328.9 1173.8,326.0C1174.7,323.0 1175.6,320.1 1176.4,317.1C1177.3,314.2 1178.2,311.3 1179.1,308.3C1180.0,305.4 1181.0,302.5 1181.9,299.6C1182.9,296.7 1183.8,293.8 1184.8,290.9C1185.8,288.0 1187.3,283.6 1187.8,282.2" stroke-width="3.10"/>
<path d="M1090.0,586.8C1090.8,585.5 1093.2,581.5 1094.7,578.8C1096.3,576.1 1097.8,573.4 1099.2,570.7C1100.7,568.0 1102.1,565.2 1103.5,562.5C1104.9,559.8 1106.2,557.0 1107.5,554.2C1108.8,551.5 1110.1,548.7 1111.4,545.9C1112.6,543.1 1113.8,540.3 1115.0,537.5C1116.2,534.7 1117.4,531.9 1118.5,529.0C1119.6,526.2 1120.7,523.3 1121.8,520.5C1122.9,517.6 1123.9,514.8 1125.0,511.9C1126.0,509.0 1127.0,506.1 1128.0,503.3C1128.9,500.4 1129.9,497.5 1130.8,494.6C1131.8,491.7 1132.7,488.7 1133.6,485.8C1134.5,482.9 1135.4,480.0 1136.2,477.0C1137.1,474.1 1137.9,471.2 1138.8,468.2C1139.6,465.3 1140.4,462.3 1141.2,459.4C1142.0,456.4 1142.8,453.5 1143.6,450.5C1144.4,447.5 1145.2,444.6 1145.9,441.6C1146.7,438.6 1147.4,435.7 1148.2,432.7C1148.9,429.7 1149.7,426.7 1150.4,423.7C1151.2,420.8 1151.9,417.8 1152.6,414.8C1153.4,411.8 1154.1,408.8 1154.8,405.8C1155.5,402.9 1156.3,399.9 1157.0,396.9C1157.7,393.9 1158.4,390.9 1159.2,387.9C1159.9,385.0 1160.6,382.0 1161.4,379.0C1162.1,376.0 1162.9,373.0 1163.6,370.1C1164.4,367.1 1165.1,364.1 1165.9,361.1C1166.7,358.2 1167.4,355.2 1168.2,352.2C1169.0,349.3 1169.8,346.3 1170.6,343.4C1171.4,340.4 1172.2,337.4 1173.1,334.5C1173.9,331.6 1174.8,328.6 1175.6,325.7C1176.5,322.7 1177.4,319.8 1178.3,316.9C1179.2,314.0 1180.1,311.1 1181.1,308.2C1182.0,305.2 1183.0,302.3 1184.0,299.5C1185.0,296.6 1186.0,293.7 1187.0,290.8C1188.1,287.9 1189.7,283.6 1190.2,282.2" stroke-width="3.10"/>
<path d="M1093.5,586.8C1094.2,585.5 1096.5,581.5 1098.0,578.8C1099.5,576.1 1100.9,573.4 1102.3,570.7C1103.7,568.0 1105.1,565.3 1106.5,562.5C1107.9,559.8 1109.2,557.1 1110.5,554.3C1111.8,551.5 1113.1,548.8 1114.4,546.0C1115.6,543.2 1116.9,540.4 1118.1,537.6C1119.3,534.8 1120.5,532.0 1121.6,529.1C1122.8,526.3 1123.9,523.5 1125.0,520.6C1126.1,517.8 1127.2,514.9 1128.3,512.0C1129.3,509.2 1130.3,506.3 1131.3,503.4C1132.3,500.5 1133.3,497.6 1134.3,494.7C1135.2,491.8 1136.1,488.9 1137.0,486.0C1137.9,483.1 1138.8,480.2 1139.7,477.2C1140.5,474.3 1141.4,471.4 1142.2,468.4C1143.0,465.5 1143.8,462.6 1144.6,459.6C1145.3,456.7 1146.1,453.7 1146.8,450.7C1147.6,447.8 1148.3,444.8 1149.0,441.9C1149.7,438.9 1150.4,435.9 1151.1,432.9C1151.8,430.0 1152.5,427.0 1153.2,424.0C1153.9,421.0 1154.5,418.1 1155.2,415.1C1155.9,412.1 1156.5,409.1 1157.2,406.1C1157.8,403.1 1158.5,400.2 1159.2,397.2C1159.8,394.2 1160.5,391.2 1161.1,388.2C1161.8,385.2 1162.4,382.3 1163.1,379.3C1163.8,376.3 1164.4,373.3 1165.1,370.3C1165.8,367.3 1166.5,364.4 1167.2,361.4C1167.9,358.4 1168.6,355.4 1169.3,352.5C1170.0,349.5 1170.8,346.5 1171.5,343.6C1172.2,340.6 1173.0,337.7 1173.8,334.7C1174.6,331.8 1175.4,328.8 1176.2,325.9C1177.0,322.9 1177.8,320.0 1178.7,317.1C1179.5,314.1 1180.4,311.2 1181.3,308.3C1182.2,305.4 1183.2,302.4 1184.1,299.5C1185.1,296.6 1186.1,293.7 1187.1,290.8C1188.1,288.0 1189.7,283.6 1190.2,282.2" stroke-width="3.10"/>
<path d="M1096.0,586.8C1096.6,585.5 1098.5,581.5 1099.8,578.8C1101.1,576.2 1102.4,573.5 1103.8,570.8C1105.2,568.1 1106.5,565.4 1107.9,562.7C1109.3,559.9 1110.7,557.2 1112.1,554.5C1113.4,551.7 1114.8,549.0 1116.2,546.2C1117.5,543.4 1118.9,540.7 1120.2,537.9C1121.5,535.1 1122.8,532.3 1124.0,529.5C1125.3,526.7 1126.5,523.9 1127.6,521.0C1128.8,518.2 1129.9,515.4 1131.0,512.5C1132.0,509.7 1133.1,506.8 1134.1,504.0C1135.1,501.1 1136.1,498.2 1137.0,495.4C1138.0,492.5 1138.9,489.6 1139.8,486.7C1140.6,483.8 1141.5,480.9 1142.3,478.0C1143.1,475.1 1143.9,472.2 1144.7,469.3C1145.5,466.3 1146.2,463.4 1146.9,460.5C1147.7,457.5 1148.4,454.6 1149.1,451.7C1149.7,448.7 1150.4,445.8 1151.1,442.8C1151.7,439.9 1152.4,436.9 1153.0,434.0C1153.6,431.0 1154.2,428.0 1154.9,425.1C1155.5,422.1 1156.1,419.1 1156.7,416.1C1157.3,413.2 1157.9,410.2 1158.4,407.2C1159.0,404.2 1159.6,401.3 1160.2,398.3C1160.8,395.3 1161.4,392.3 1162.0,389.3C1162.6,386.3 1163.2,383.3 1163.8,380.4C1164.4,377.4 1165.0,374.4 1165.6,371.4C1166.3,368.4 1166.9,365.4 1167.6,362.4C1168.2,359.4 1168.9,356.4 1169.6,353.5C1170.2,350.5 1171.0,347.5 1171.7,344.5C1172.4,341.5 1173.1,338.5 1173.8,335.5C1174.6,332.6 1175.3,329.6 1176.1,326.6C1176.8,323.6 1177.5,320.7 1178.3,317.7C1179.0,314.7 1179.7,311.7 1180.4,308.8C1181.1,305.8 1181.8,302.8 1182.4,299.9C1183.1,296.9 1183.7,294.0 1184.3,291.0C1184.8,288.1 1184.0,290.4 1185.9,282.2C1187.8,274.0 1192.4,255.1 1195.5,241.9C1198.6,228.7 1201.4,215.3 1204.4,202.9C1207.4,190.5 1210.3,178.6 1213.3,167.3C1216.2,156.1 1219.1,145.5 1222.1,135.4C1225.0,125.4 1228.0,115.9 1231.0,107.0C1234.0,98.1 1237.2,88.8 1239.9,82.1C1242.6,75.4 1244.6,71.4 1247.0,67.0C1249.4,62.6 1251.9,58.9 1254.1,55.5C1256.3,52.1 1258.7,47.9 1260.3,46.6C1261.9,45.3 1262.6,47.6 1263.9,47.5C1265.2,47.4 1267.2,44.2 1268.3,45.7C1269.4,47.2 1269.4,54.8 1270.4,56.4C1271.4,58.0 1273.4,55.4 1274.5,55.5C1275.6,55.6 1276.2,56.8 1277.2,57.3C1278.2,57.8 1279.7,57.0 1280.7,58.2C1281.7,59.4 1282.6,61.6 1283.4,64.4C1284.2,67.2 1285.1,69.7 1285.7,75.0C1286.3,80.3 1286.1,91.6 1286.9,96.3C1287.7,101.0 1289.5,100.4 1290.5,103.4C1291.5,106.4 1292.4,109.6 1293.1,114.1C1293.8,118.5 1294.4,125.4 1294.9,130.1C1295.4,134.8 1295.5,139.8 1296.3,142.5C1297.0,145.2 1297.9,145.3 1299.4,146.0C1301.0,146.7 1303.7,146.3 1305.6,146.4C1307.5,146.5 1309.1,145.4 1310.9,146.4C1312.7,147.4 1314.4,149.1 1316.2,152.3C1318.0,155.5 1319.4,161.9 1321.5,165.6C1323.6,169.3 1326.8,172.2 1328.6,174.4C1330.4,176.6 1330.6,177.9 1332.2,178.9C1333.8,179.9 1336.6,179.6 1338.4,180.7C1340.2,181.8 1340.8,184.5 1342.9,185.5C1345.0,186.5 1348.2,185.9 1350.8,186.9C1353.4,187.9 1356.6,190.4 1358.8,191.3C1361.0,192.2 1361.8,191.6 1364.2,192.6C1366.6,193.6 1370.0,195.9 1373.0,197.5C1376.0,199.1 1378.9,200.3 1381.9,202.0C1384.9,203.7 1387.8,205.8 1390.8,207.8C1393.8,209.8 1397.3,212.1 1399.7,213.9C1402.1,215.7 1402.9,216.0 1405.0,218.8C1407.1,221.7 1409.7,226.4 1412.5,231.0C1415.3,235.6 1418.6,241.9 1421.6,246.2C1424.6,250.5 1427.5,253.1 1430.5,256.8C1433.5,260.5 1436.4,264.8 1439.4,268.3C1442.4,271.9 1445.0,274.4 1448.3,278.1C1451.5,281.8 1455.4,286.8 1458.9,290.5C1462.5,294.2 1466.8,297.9 1469.6,300.3C1472.4,302.7 1473.7,302.5 1475.8,304.7C1477.9,306.9 1479.2,310.8 1482.0,313.6C1484.8,316.4 1489.3,319.2 1492.6,321.6C1495.8,324.0 1498.2,325.7 1501.5,328.2C1504.8,330.7 1508.7,333.9 1512.2,336.7C1515.8,339.4 1520.2,342.8 1522.8,344.7C1525.4,346.6 1526.0,346.3 1528.1,348.2C1530.2,350.1 1532.8,353.5 1535.2,356.2C1537.6,358.9 1539.9,361.4 1542.3,364.2C1544.7,367.0 1547.0,370.4 1549.4,373.1C1551.8,375.8 1553.5,377.5 1556.5,380.2C1559.5,382.9 1564.5,386.7 1567.2,389.1C1569.9,391.5 1570.4,392.0 1572.5,394.4C1574.6,396.8 1576.9,400.8 1579.6,403.3C1582.3,405.8 1585.5,407.4 1588.5,409.5C1591.5,411.6 1594.2,413.9 1597.4,415.7C1600.7,417.5 1604.0,418.5 1608.0,420.1C1612.0,421.7 1619.1,424.6 1621.3,425.5" stroke-width="3.10"/>
<path d="M1190.2,282.2C1190.4,283.7 1190.9,288.3 1191.2,291.4C1191.4,294.4 1191.6,297.5 1191.6,300.5C1191.7,303.6 1191.7,306.6 1191.6,309.6C1191.5,312.6 1191.3,315.6 1191.1,318.7C1190.9,321.7 1190.6,324.7 1190.3,327.7C1190.0,330.7 1189.6,333.7 1189.2,336.6C1188.8,339.6 1188.3,342.6 1187.9,345.6C1187.4,348.6 1186.9,351.5 1186.4,354.5C1185.8,357.5 1185.3,360.5 1184.7,363.4C1184.2,366.4 1183.6,369.4 1183.0,372.3C1182.4,375.3 1181.8,378.2 1181.2,381.2C1180.5,384.2 1179.9,387.1 1179.2,390.1C1178.6,393.0 1177.9,396.0 1177.3,399.0C1176.6,401.9 1176.0,404.9 1175.3,407.9C1174.6,410.8 1173.9,413.8 1173.3,416.8C1172.6,419.7 1171.9,422.7 1171.3,425.7C1170.6,428.6 1169.9,431.6 1169.2,434.6C1168.6,437.6 1167.9,440.6 1167.3,443.6C1166.6,446.5 1165.9,449.5 1165.3,452.5C1164.6,455.5 1163.9,458.5 1163.2,461.5C1162.5,464.4 1161.8,467.4 1161.1,470.4C1160.4,473.4 1159.7,476.3 1158.9,479.3C1158.2,482.3 1157.4,485.2 1156.6,488.2C1155.9,491.1 1155.1,494.1 1154.2,497.0C1153.4,500.0 1152.5,502.9 1151.6,505.8C1150.8,508.7 1149.8,511.6 1148.9,514.5C1147.9,517.4 1146.9,520.3 1145.9,523.2C1144.9,526.0 1143.8,528.9 1142.7,531.7C1141.6,534.5 1140.4,537.3 1139.2,540.0C1137.9,542.8 1136.7,545.5 1135.3,548.1C1133.9,550.8 1132.5,553.4 1130.9,555.9C1129.4,558.4 1127.8,560.9 1126.1,563.3C1124.3,565.6 1122.5,567.9 1120.6,570.1C1118.7,572.3 1116.6,574.4 1114.5,576.4C1112.3,578.4 1110.1,580.3 1107.6,582.1C1105.2,583.8 1101.3,586.2 1100.0,587.0" stroke-width="3.10"/>
<path d="M1187.8,282.2C1187.9,283.8 1188.1,288.5 1188.2,291.6C1188.2,294.7 1188.2,297.8 1188.2,300.9C1188.1,303.9 1188.0,307.0 1187.8,310.0C1187.6,313.1 1187.4,316.1 1187.1,319.1C1186.9,322.1 1186.5,325.2 1186.2,328.1C1185.8,331.1 1185.4,334.1 1185.0,337.1C1184.5,340.1 1184.0,343.1 1183.5,346.0C1183.0,349.0 1182.5,351.9 1181.9,354.9C1181.3,357.8 1180.7,360.8 1180.1,363.7C1179.5,366.7 1178.9,369.6 1178.2,372.6C1177.5,375.5 1176.9,378.5 1176.2,381.4C1175.5,384.3 1174.8,387.3 1174.1,390.2C1173.4,393.2 1172.7,396.1 1172.0,399.1C1171.3,402.1 1170.5,405.0 1169.8,408.0C1169.1,411.0 1168.4,414.0 1167.7,417.0C1167.0,419.9 1166.3,422.9 1165.7,426.0C1165.0,429.0 1164.4,432.0 1163.7,435.0C1163.1,438.1 1162.4,441.1 1161.8,444.2C1161.2,447.2 1160.6,450.3 1160.0,453.3C1159.3,456.4 1158.7,459.4 1158.1,462.5C1157.4,465.6 1156.8,468.6 1156.1,471.7C1155.5,474.7 1154.8,477.8 1154.1,480.8C1153.4,483.8 1152.7,486.8 1152.0,489.8C1151.2,492.8 1150.4,495.8 1149.6,498.8C1148.8,501.8 1148.0,504.7 1147.1,507.7C1146.2,510.6 1145.3,513.5 1144.3,516.4C1143.3,519.3 1142.2,522.1 1141.1,524.9C1140.1,527.7 1138.9,530.5 1137.7,533.3C1136.5,536.0 1135.2,538.8 1133.8,541.4C1132.5,544.1 1131.1,546.8 1129.6,549.3C1128.1,551.9 1126.5,554.5 1124.8,557.0C1123.2,559.5 1121.4,562.0 1119.6,564.3C1117.7,566.7 1115.8,569.0 1113.7,571.1C1111.7,573.3 1109.5,575.4 1107.2,577.3C1104.9,579.2 1102.5,581.0 1100.0,582.7C1097.5,584.3 1093.3,586.3 1092.0,587.0" stroke-width="3.10"/>
<path d="M1190.2,282.2C1190.3,283.8 1190.5,288.4 1190.6,291.5C1190.6,294.6 1190.6,297.7 1190.6,300.8C1190.5,303.9 1190.4,306.9 1190.2,309.9C1190.1,313.0 1189.8,316.0 1189.6,319.0C1189.3,322.0 1189.0,325.0 1188.6,328.0C1188.3,331.0 1187.9,334.0 1187.5,336.9C1187.0,339.9 1186.5,342.9 1186.0,345.8C1185.5,348.8 1185.0,351.7 1184.4,354.7C1183.9,357.6 1183.3,360.6 1182.7,363.5C1182.1,366.4 1181.4,369.4 1180.8,372.3C1180.1,375.2 1179.5,378.2 1178.8,381.1C1178.1,384.1 1177.4,387.0 1176.7,389.9C1176.0,392.9 1175.3,395.8 1174.6,398.8C1173.9,401.7 1173.2,404.7 1172.5,407.6C1171.8,410.6 1171.1,413.6 1170.4,416.5C1169.7,419.5 1169.0,422.5 1168.4,425.5C1167.7,428.5 1167.0,431.5 1166.4,434.5C1165.8,437.6 1165.1,440.6 1164.5,443.6C1163.9,446.7 1163.3,449.7 1162.6,452.7C1162.0,455.8 1161.4,458.8 1160.8,461.9C1160.1,464.9 1159.5,467.9 1158.9,471.0C1158.2,474.0 1157.5,477.0 1156.9,480.1C1156.2,483.1 1155.5,486.1 1154.7,489.1C1154.0,492.1 1153.2,495.0 1152.4,498.0C1151.6,501.0 1150.8,503.9 1149.9,506.8C1149.1,509.8 1148.2,512.7 1147.2,515.5C1146.2,518.4 1145.2,521.3 1144.2,524.1C1143.1,526.9 1142.0,529.7 1140.8,532.5C1139.6,535.2 1138.4,537.9 1137.1,540.6C1135.8,543.3 1134.4,546.0 1133.0,548.6C1131.5,551.2 1130.0,553.8 1128.4,556.3C1126.8,558.8 1125.1,561.3 1123.3,563.7C1121.5,566.1 1119.7,568.4 1117.7,570.6C1115.7,572.8 1113.6,575.0 1111.4,576.9C1109.1,578.9 1106.8,580.8 1104.3,582.5C1101.8,584.1 1097.7,586.2 1096.4,587.0" stroke-width="3.10"/>
<path d="M552.8,1313.3C553.9,1312.9 557.3,1312.0 559.5,1311.2C561.7,1310.4 563.9,1309.6 566.1,1308.7C568.2,1307.9 570.4,1306.9 572.5,1305.9C574.6,1304.9 576.7,1303.9 578.7,1302.7C580.8,1301.6 582.8,1300.4 584.7,1299.1C586.7,1297.8 588.6,1296.5 590.4,1295.0C592.3,1293.6 594.1,1292.1 595.8,1290.6C597.5,1289.0 599.4,1286.2 600.8,1285.6C602.2,1285.0 602.6,1287.8 604.0,1286.8C605.4,1285.8 607.4,1282.2 609.0,1279.9C610.7,1277.6 612.3,1275.2 614.0,1272.9C615.6,1270.6 617.2,1268.2 618.8,1265.9C620.4,1263.5 622.0,1261.1 623.5,1258.8C625.1,1256.4 626.7,1254.0 628.2,1251.6C629.7,1249.2 631.2,1246.8 632.7,1244.4C634.2,1241.9 635.7,1239.5 637.2,1237.1C638.6,1234.6 640.1,1232.2 641.5,1229.7C643.0,1227.3 644.4,1224.8 645.8,1222.3C647.2,1219.8 648.6,1217.3 649.9,1214.8C651.3,1212.3 652.6,1209.8 654.0,1207.3C655.3,1204.8 656.6,1202.3 657.9,1199.7C659.2,1197.2 660.5,1194.6 661.8,1192.1C663.0,1189.5 664.9,1185.7 665.5,1184.4" stroke-width="3.10"/>
<path d="M577.5,1315.0C578.9,1314.1 583.2,1311.6 585.9,1309.8C588.6,1308.0 591.2,1306.1 593.6,1304.1C596.1,1302.1 598.4,1300.0 600.7,1297.9C603.0,1295.8 605.1,1293.6 607.2,1291.3C609.3,1289.0 611.3,1286.7 613.2,1284.3C615.2,1281.9 617.0,1279.5 618.9,1277.0C620.7,1274.5 622.4,1271.9 624.2,1269.3C625.9,1266.7 627.6,1264.1 629.3,1261.4C630.9,1258.8 632.6,1256.0 634.2,1253.3C635.8,1250.5 637.5,1247.8 639.1,1245.0C640.7,1242.2 642.4,1239.3 644.0,1236.5C645.6,1233.6 647.3,1230.8 648.9,1227.9C650.4,1225.0 652.0,1222.1 653.5,1219.2C655.0,1216.3 656.4,1213.4 657.7,1210.5C659.0,1207.6 660.2,1204.7 661.3,1201.8C662.4,1198.9 663.4,1195.9 664.1,1193.1C664.8,1190.2 665.3,1185.8 665.5,1184.4" stroke-width="3.10"/>
<path d="M582.0,1315.0C583.4,1314.2 587.5,1312.0 590.1,1310.3C592.7,1308.6 595.2,1306.8 597.7,1304.8C600.1,1302.9 602.4,1300.9 604.6,1298.8C606.9,1296.7 609.1,1294.5 611.1,1292.2C613.2,1290.0 615.2,1287.6 617.2,1285.2C619.1,1282.8 621.0,1280.3 622.8,1277.7C624.6,1275.2 626.4,1272.6 628.1,1269.9C629.8,1267.3 631.5,1264.6 633.1,1261.9C634.7,1259.2 636.2,1256.4 637.8,1253.6C639.3,1250.8 640.8,1248.0 642.2,1245.2C643.7,1242.4 645.1,1239.6 646.5,1236.7C647.9,1233.9 649.2,1231.0 650.5,1228.1C651.9,1225.3 653.1,1222.4 654.4,1219.5C655.7,1216.6 656.9,1213.7 658.1,1210.8C659.3,1208.0 660.5,1205.1 661.6,1202.2C662.8,1199.3 663.9,1196.4 665.0,1193.6C666.1,1190.7 667.8,1186.4 668.3,1185.0" stroke-width="3.10"/>
<path d="M590.5,1315.0C591.9,1314.2 596.3,1312.1 598.9,1310.5C601.6,1308.8 604.2,1307.1 606.6,1305.2C609.0,1303.3 611.3,1301.4 613.5,1299.3C615.7,1297.2 617.7,1295.1 619.7,1292.8C621.7,1290.6 623.6,1288.2 625.4,1285.8C627.3,1283.4 629.0,1281.0 630.7,1278.4C632.4,1275.9 634.0,1273.3 635.6,1270.7C637.2,1268.1 638.7,1265.4 640.2,1262.7C641.7,1260.0 643.2,1257.2 644.7,1254.4C646.2,1251.7 647.6,1248.9 649.1,1246.1C650.5,1243.3 651.9,1240.4 653.3,1237.6C654.6,1234.8 655.9,1231.9 657.2,1229.0C658.5,1226.2 659.7,1223.3 660.8,1220.4C662.0,1217.5 663.1,1214.6 664.1,1211.6C665.1,1208.7 666.0,1205.8 666.9,1202.9C667.7,1200.0 668.4,1197.0 669.0,1194.1C669.6,1191.2 670.1,1186.8 670.3,1185.3" stroke-width="3.10"/>
<path d="M592.5,1315.0C593.9,1314.3 598.3,1312.2 601.0,1310.6C603.7,1308.9 606.2,1307.2 608.6,1305.3C611.0,1303.5 613.3,1301.5 615.5,1299.4C617.7,1297.4 619.7,1295.2 621.7,1292.9C623.7,1290.7 625.5,1288.3 627.3,1285.9C629.1,1283.5 630.8,1281.0 632.5,1278.4C634.2,1275.9 635.8,1273.3 637.3,1270.6C638.9,1268.0 640.4,1265.3 641.9,1262.6C643.4,1259.8 644.9,1257.1 646.3,1254.3C647.8,1251.5 649.3,1248.7 650.7,1245.9C652.1,1243.1 653.5,1240.3 654.9,1237.5C656.3,1234.7 657.6,1231.8 658.9,1228.9C660.2,1226.1 661.4,1223.2 662.6,1220.3C663.8,1217.4 664.9,1214.5 665.9,1211.6C667.0,1208.7 668.0,1205.8 668.8,1202.9C669.6,1200.0 670.3,1197.1 670.7,1194.1C671.1,1191.2 671.1,1186.8 671.2,1185.3" stroke-width="3.10"/>
<path d="M594.5,1315.0C595.9,1314.3 600.3,1312.2 603.0,1310.7C605.7,1309.1 608.2,1307.3 610.6,1305.5C613.0,1303.7 615.3,1301.7 617.5,1299.6C619.7,1297.5 621.7,1295.4 623.7,1293.1C625.6,1290.8 627.5,1288.4 629.3,1286.0C631.1,1283.6 632.8,1281.0 634.5,1278.5C636.1,1275.9 637.7,1273.3 639.2,1270.6C640.8,1267.9 642.2,1265.2 643.7,1262.4C645.2,1259.6 646.6,1256.8 648.0,1254.0C649.4,1251.2 650.8,1248.4 652.2,1245.6C653.6,1242.8 655.0,1239.9 656.4,1237.1C657.8,1234.3 659.3,1231.5 660.6,1228.7C662.0,1225.9 663.3,1223.1 664.5,1220.3C665.8,1217.5 667.0,1214.6 668.0,1211.8C669.0,1208.9 669.9,1206.0 670.7,1203.1C671.4,1200.2 672.2,1197.3 672.4,1194.3C672.6,1191.4 671.9,1186.8 671.8,1185.3" stroke-width="3.10"/>
<path d="M588.5,1315.0C589.9,1314.2 594.2,1312.0 596.9,1310.4C599.5,1308.7 602.0,1307.0 604.5,1305.1C606.9,1303.2 609.2,1301.3 611.4,1299.2C613.6,1297.1 615.7,1295.0 617.8,1292.7C619.8,1290.5 621.7,1288.2 623.6,1285.8C625.4,1283.4 627.2,1280.9 629.0,1278.4C630.7,1275.9 632.3,1273.3 634.0,1270.7C635.6,1268.1 637.1,1265.4 638.7,1262.7C640.2,1260.0 641.7,1257.2 643.2,1254.5C644.6,1251.7 646.1,1248.9 647.5,1246.1C648.9,1243.3 650.2,1240.5 651.6,1237.6C652.9,1234.8 654.2,1231.9 655.4,1229.0C656.7,1226.1 657.8,1223.2 659.0,1220.3C660.1,1217.4 661.2,1214.5 662.2,1211.6C663.2,1208.7 664.2,1205.7 665.1,1202.8C665.9,1199.9 666.8,1197.0 667.5,1194.0C668.2,1191.1 668.4,1188.6 669.5,1185.3C670.6,1182.0 672.7,1177.7 674.3,1173.9C675.9,1170.2 677.5,1166.4 679.1,1162.6C680.7,1158.8 682.4,1155.0 684.0,1151.3C685.6,1147.5 687.2,1143.7 688.9,1139.9C690.5,1136.2 692.2,1132.4 693.8,1128.6C695.5,1124.9 697.1,1121.1 698.8,1117.3C700.4,1113.6 702.1,1109.8 703.8,1106.0C705.4,1102.3 707.1,1098.5 708.8,1094.8C710.5,1091.0 712.2,1087.3 713.9,1083.5C715.6,1079.8 717.3,1076.0 719.1,1072.3C720.8,1068.6 722.5,1064.8 724.2,1061.1C726.0,1057.4 727.7,1053.6 729.5,1049.9C731.2,1046.2 733.0,1042.5 734.8,1038.8C736.6,1035.1 738.4,1031.3 740.1,1027.6C741.9,1023.9 743.8,1020.3 745.6,1016.6C747.4,1012.9 749.2,1009.2 751.1,1005.5C752.9,1001.8 754.8,998.2 756.6,994.5C758.5,990.8 760.4,987.2 762.2,983.5C764.1,979.9 766.0,976.2 767.9,972.6C769.8,969.0 771.8,965.3 773.7,961.7C775.6,958.1 777.6,954.5 779.6,950.9C781.5,947.2 783.5,943.6 785.5,940.1C787.5,936.5 789.9,931.7 791.5,929.3C793.1,926.9 793.6,927.8 795.0,925.8C796.4,923.8 798.3,920.0 800.0,917.0C801.7,914.1 803.4,911.1 805.1,908.2C806.8,905.3 808.5,902.3 810.2,899.4C812.0,896.5 813.8,893.6 815.6,890.7C817.4,887.9 819.3,885.0 821.2,882.3C823.2,879.5 825.1,876.8 827.2,874.1C829.3,871.4 831.4,868.8 833.7,866.3C835.9,863.8 838.2,861.3 840.7,859.0C843.1,856.6 846.4,853.4 848.3,852.2C850.2,851.0 850.4,852.3 851.8,851.6C853.2,850.9 854.8,849.0 856.5,848.1C858.2,847.2 860.7,846.3 862.3,846.0C863.9,845.7 865.1,845.8 866.3,846.4C867.4,847.0 868.4,848.4 869.2,849.9C870.0,851.4 870.4,853.0 870.9,855.1C871.4,857.2 871.7,859.0 872.4,862.6C873.1,866.2 874.3,873.5 875.0,876.8C875.7,880.0 875.8,880.2 876.8,882.1C877.8,884.0 880.0,886.2 881.2,888.3C882.4,890.4 883.1,892.5 883.9,894.6C884.6,896.7 885.0,899.4 885.7,900.8C886.4,902.2 887.1,902.6 888.3,903.1C889.5,903.6 891.2,903.0 892.8,903.8C894.4,904.6 896.6,905.7 898.1,907.9C899.6,910.1 900.5,913.7 901.7,916.8C902.9,919.9 904.0,923.5 905.2,926.5C906.4,929.5 907.3,932.3 908.8,934.5C910.3,936.7 912.0,938.5 914.1,939.8C916.2,941.1 919.6,942.2 921.2,942.5C922.8,942.8 922.4,941.5 923.9,941.6C925.4,941.8 928.2,942.6 930.1,943.4C932.0,944.2 933.6,945.3 935.4,946.4C937.2,947.5 939.1,948.4 940.7,950.0C942.3,951.6 943.7,953.2 945.2,955.8C946.7,958.4 948.1,962.6 949.6,965.6C951.1,968.6 952.7,970.7 954.0,973.6C955.3,976.5 956.4,979.8 957.6,983.3C958.8,986.8 960.1,991.0 961.1,994.9C962.1,998.8 962.9,1002.7 963.8,1006.4C964.7,1010.1 965.4,1013.3 966.5,1017.1C967.6,1020.9 968.9,1024.8 970.5,1029.0C972.1,1033.2 973.8,1037.3 976.0,1042.0C978.2,1046.7 981.3,1052.2 983.5,1057.0C985.7,1061.8 987.3,1066.3 989.1,1071.0C990.9,1075.7 992.6,1080.9 994.4,1085.2C996.2,1089.5 998.2,1093.5 999.7,1096.8C1001.2,1100.0 1002.0,1102.3 1003.3,1104.7C1004.6,1107.1 1005.9,1109.2 1007.7,1111.0C1009.5,1112.8 1011.4,1113.6 1013.9,1115.4C1016.4,1117.2 1019.8,1119.7 1022.8,1121.6C1025.8,1123.5 1028.9,1125.1 1031.7,1126.9C1034.5,1128.7 1037.3,1130.4 1039.7,1132.3C1042.1,1134.2 1043.8,1136.6 1045.9,1138.5C1048.0,1140.4 1050.0,1141.8 1052.1,1143.8C1054.2,1145.8 1056.2,1148.7 1058.3,1150.5C1060.4,1152.3 1062.7,1153.5 1064.5,1154.8C1066.3,1156.0 1067.6,1156.7 1068.9,1158.0C1070.2,1159.3 1070.4,1161.1 1072.5,1162.4C1074.6,1163.7 1078.5,1164.7 1081.4,1166.0C1084.4,1167.3 1087.2,1168.9 1090.2,1170.4C1093.2,1171.9 1098.1,1174.4 1099.7,1175.2" stroke-width="3.10"/>
</g>
<g fill="#000" stroke="#000" stroke-width="0.35" font-family="'Liberation Serif', 'Times New Roman', serif"><text transform="translate(80.5,623.6) scale(0.960,1)" font-size="41.5" text-anchor="middle">0</text><text transform="translate(151.4,623.6) scale(0.960,1)" font-size="41.5" text-anchor="middle">2</text><text transform="translate(222.2,623.6) scale(0.960,1)" font-size="41.5" text-anchor="middle">4</text><text transform="translate(293.1,623.6) scale(0.960,1)" font-size="41.5" text-anchor="middle">6</text><text transform="translate(363.9,623.6) scale(0.960,1)" font-size="41.5" text-anchor="middle">8</text><text transform="translate(434.8,623.6) scale(0.960,1)" font-size="41.5" text-anchor="middle">10</text><text transform="translate(505.7,623.6) scale(0.960,1)" font-size="41.5" text-anchor="middle">12</text><text transform="translate(576.5,623.6) scale(0.960,1)" font-size="41.5" text-anchor="middle">14</text><text transform="translate(647.4,623.6) scale(0.960,1)" font-size="41.5" text-anchor="middle">16</text><text transform="translate(718.2,623.6) scale(0.960,1)" font-size="41.5" text-anchor="middle">18</text><text transform="translate(789.1,623.6) scale(0.960,1)" font-size="41.5" text-anchor="middle">20</text><text transform="translate(67.5,592.3) scale(1.000,1)" font-size="40.0" text-anchor="end">0</text><text transform="translate(67.5,451.1) scale(1.000,1)" font-size="40.0" text-anchor="end">4</text><text transform="translate(67.5,309.8) scale(1.000,1)" font-size="40.0" text-anchor="end">8</text><text transform="translate(67.5,168.6) scale(1.000,1)" font-size="40.0" text-anchor="end">12</text><text transform="translate(67.5,27.3) scale(1.000,1)" font-size="40.0" text-anchor="end">16</text><text transform="translate(435.5,665.0) scale(1.010,1)" font-size="40.0" text-anchor="middle">Strain<tspan font-size="36" dy="1">(</tspan><tspan dy="-1">10</tspan><tspan font-size="26.5" dy="-16.5">-3</tspan><tspan font-size="36" dy="17.5">)</tspan></text><text transform="translate(408.6,742.2) scale(1.040,1)" font-size="36.5" text-anchor="middle">(a)</text><text transform="translate(29,286.9) rotate(-90)" font-size="41" text-anchor="middle">Stress / MPa</text><text transform="translate(970.4,629.9) scale(1.050,1)" font-size="36.0" text-anchor="middle">0</text><text transform="translate(1041.2,629.9) scale(1.050,1)" font-size="36.0" text-anchor="middle">3</text><text transform="translate(1111.9,629.9) scale(1.050,1)" font-size="36.0" text-anchor="middle">6</text><text transform="translate(1182.7,629.9) scale(1.050,1)" font-size="36.0" text-anchor="middle">9</text><text transform="translate(1253.4,629.9) scale(1.050,1)" font-size="36.0" text-anchor="middle">12</text><text transform="translate(1324.2,629.9) scale(1.050,1)" font-size="36.0" text-anchor="middle">15</text><text transform="translate(1394.9,629.9) scale(1.050,1)" font-size="36.0" text-anchor="middle">18</text><text transform="translate(1465.7,629.9) scale(1.050,1)" font-size="36.0" text-anchor="middle">21</text><text transform="translate(1536.4,629.9) scale(1.050,1)" font-size="36.0" text-anchor="middle">24</text><text transform="translate(1607.2,629.9) scale(1.050,1)" font-size="36.0" text-anchor="middle">27</text><text transform="translate(1678.0,629.9) scale(1.050,1)" font-size="36.0" text-anchor="middle">30</text><text transform="translate(964.8,602.9) scale(0.930,1)" font-size="45.0" text-anchor="end">0</text><text transform="translate(964.8,461.5) scale(0.930,1)" font-size="45.0" text-anchor="end">4</text><text transform="translate(964.8,320.0) scale(0.930,1)" font-size="45.0" text-anchor="end">8</text><text transform="translate(964.8,178.6) scale(0.930,1)" font-size="45.0" text-anchor="end">12</text><text transform="translate(964.8,37.1) scale(0.930,1)" font-size="45.0" text-anchor="end">16</text><text transform="translate(1332.5,665.7) scale(1.050,1)" font-size="36.0" text-anchor="middle">Strain <tspan font-size="33" dy="0.5">(</tspan><tspan dy="-0.5">10</tspan><tspan font-size="24" dy="-15">-3</tspan><tspan font-size="33" dy="15.5">)</tspan></text><text transform="translate(1296.3,742.4) scale(1.040,1)" font-size="36.5" text-anchor="middle">(b)</text><text transform="translate(913,287.9) rotate(-90)" font-size="37.5" text-anchor="middle">Stress/ MPa</text><text transform="translate(552.7,1354.3) scale(1.000,1)" font-size="40.5" text-anchor="middle">0</text><text transform="translate(626.0,1354.3) scale(1.000,1)" font-size="40.5" text-anchor="middle">2</text><text transform="translate(699.3,1354.3) scale(1.000,1)" font-size="40.5" text-anchor="middle">4</text><text transform="translate(772.6,1354.3) scale(1.000,1)" font-size="40.5" text-anchor="middle">6</text><text transform="translate(845.9,1354.3) scale(1.000,1)" font-size="40.5" text-anchor="middle">8</text><text transform="translate(919.2,1354.3) scale(1.000,1)" font-size="40.5" text-anchor="middle">10</text><text transform="translate(992.5,1354.3) scale(1.000,1)" font-size="40.5" text-anchor="middle">12</text><text transform="translate(1065.8,1354.3) scale(1.000,1)" font-size="40.5" text-anchor="middle">14</text><text transform="translate(1139.1,1354.3) scale(1.000,1)" font-size="40.5" text-anchor="middle">16</text><text transform="translate(1212.4,1354.3) scale(1.000,1)" font-size="40.5" text-anchor="middle">18</text><text transform="translate(547.6,1328.6) scale(0.970,1)" font-size="42.5" text-anchor="end">0</text><text transform="translate(547.6,1222.9) scale(0.970,1)" font-size="42.5" text-anchor="end">4</text><text transform="translate(547.6,1117.3) scale(0.970,1)" font-size="42.5" text-anchor="end">8</text><text transform="translate(547.6,1011.6) scale(0.970,1)" font-size="42.5" text-anchor="end">12</text><text transform="translate(547.6,906.0) scale(0.970,1)" font-size="42.5" text-anchor="end">16</text><text transform="translate(547.6,800.3) scale(0.970,1)" font-size="42.5" text-anchor="end">20</text><text transform="translate(883.5,1396.9) scale(1.060,1)" font-size="39.5" text-anchor="middle">Strain <tspan font-size="30" dy="1">(</tspan><tspan dy="-1">10</tspan><tspan font-size="27" dy="-17">-3</tspan><tspan font-size="30" dy="18">)</tspan></text><text transform="translate(852.0,1457.5) scale(1.000,1)" font-size="38.0" text-anchor="middle">(c)</text><text transform="translate(507.6,1034.9) rotate(-90)" font-size="45.3" text-anchor="middle">Stress / MPa</text></g>
</svg>
</body></html>
